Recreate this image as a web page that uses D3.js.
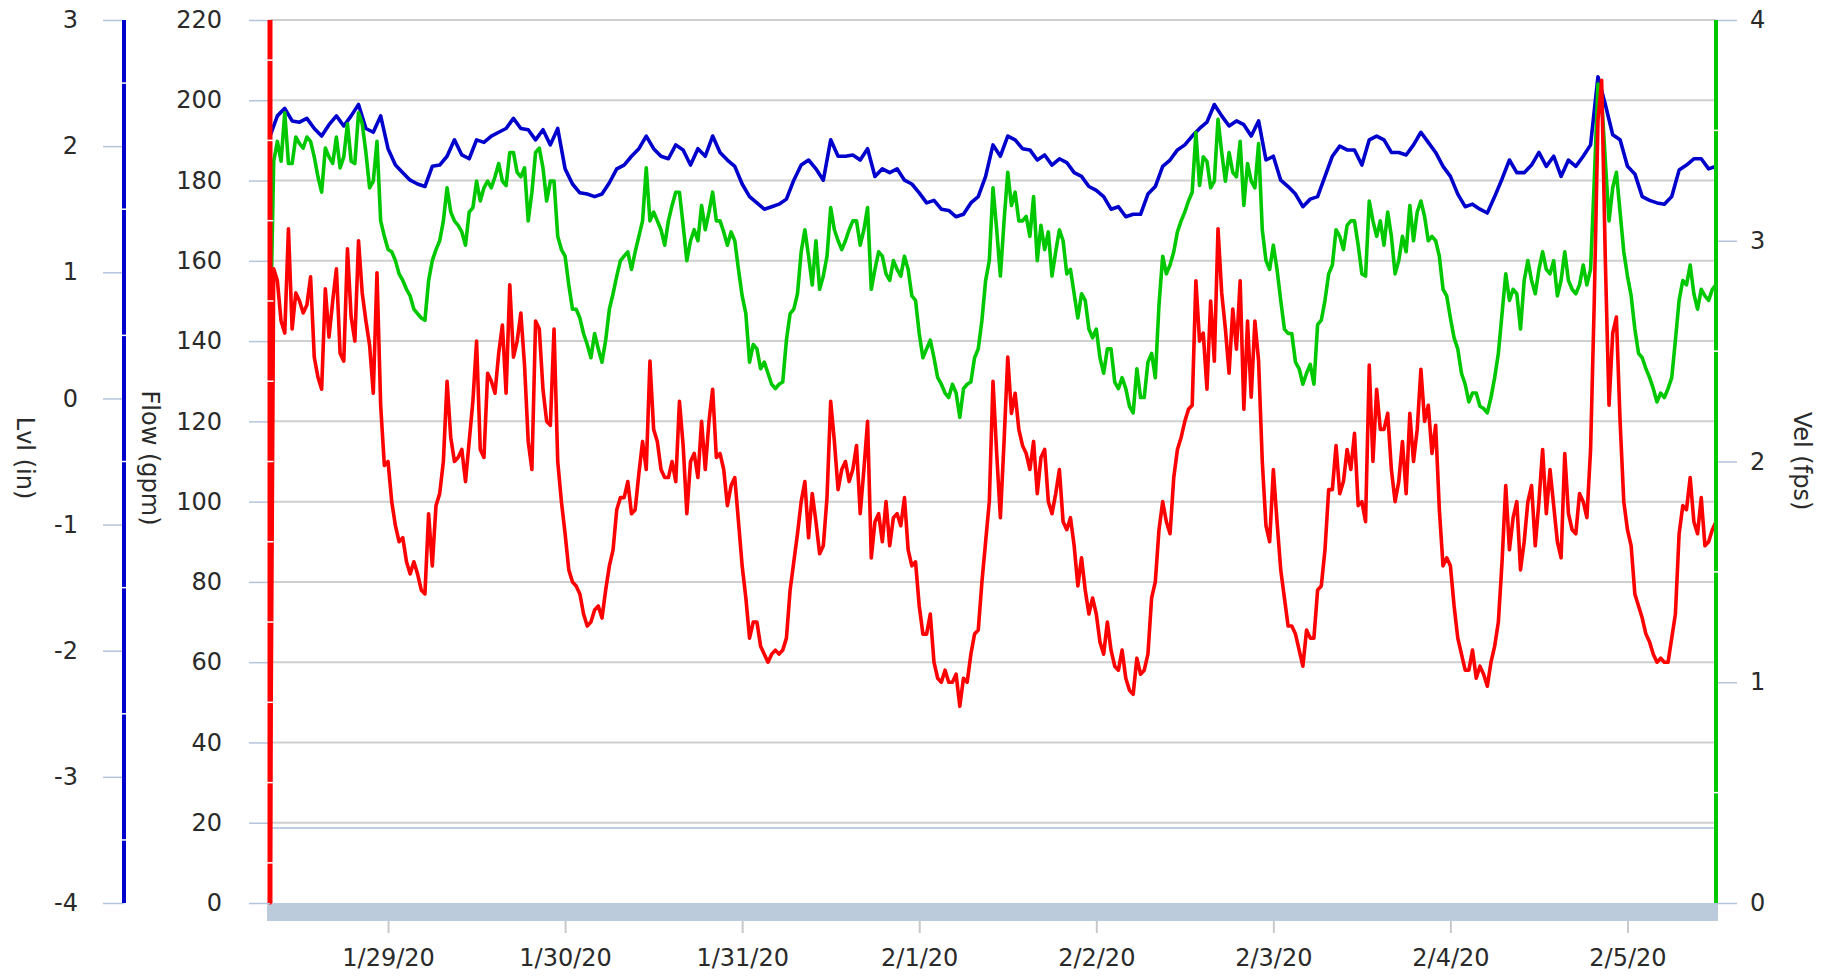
<!DOCTYPE html>
<html><head><meta charset="utf-8">
<script src="https://cdn.jsdelivr.net/npm/d3@7"></script>
<style>
html,body{margin:0;padding:0;background:#fff;overflow:hidden;}
svg text{font-family:"DejaVu Sans",Verdana,sans-serif;fill:#2a2a2a;}
</style></head><body>
<svg id="chart" width="1839" height="977"></svg>
<script>
// ---------------- data ----------------
const startTime = "2020-01-28 08:00";
const endTime = "2020-02-05 12:00";
const lvlStepMinutes = 60;     // Lvl samples: hourly
const flowStepMinutes = 30;    // Flow samples: half-hourly
const velStepMinutes = 30;     // Vel samples: half-hourly
const lvlValues = [2.08,2.24,2.30,2.20,2.19,2.22,2.14,2.08,2.17,2.24,2.16,
2.24,2.33,2.14,2.11,2.24,1.98,1.85,1.79,1.73,1.70,
1.68,1.84,1.85,1.92,2.05,1.93,1.90,2.05,2.03,2.08,
2.11,2.14,2.22,2.14,2.13,2.05,2.13,2.01,2.14,1.82,
1.70,1.63,1.62,1.60,1.62,1.71,1.82,1.85,1.92,1.98,
2.08,1.98,1.92,1.90,2.01,1.97,1.85,1.98,1.92,2.08,
1.95,1.89,1.84,1.70,1.60,1.55,1.50,1.52,1.54,1.58,
1.73,1.85,1.89,1.82,1.73,2.05,1.92,1.92,1.93,1.89,
1.98,1.76,1.82,1.79,1.82,1.73,1.70,1.63,1.55,1.57,
1.50,1.49,1.44,1.46,1.55,1.60,1.76,2.01,1.92,2.08,
2.05,1.98,1.97,1.89,1.93,1.85,1.90,1.87,1.79,1.76,
1.68,1.65,1.60,1.50,1.52,1.44,1.46,1.46,1.62,1.68,
1.84,1.89,1.97,2.01,2.08,2.14,2.19,2.33,2.24,2.16,
2.20,2.17,2.08,2.20,1.89,1.92,1.73,1.68,1.62,1.52,
1.58,1.60,1.76,1.92,2.00,1.97,1.97,1.85,2.05,2.08,
2.05,1.95,1.95,1.93,2.01,2.11,2.03,1.95,1.84,1.76,
1.62,1.52,1.54,1.50,1.47,1.60,1.74,1.89,1.79,1.79,
1.85,1.95,1.84,1.92,1.76,1.89,1.84,1.92,2.01,2.55,
2.33,2.09,2.05,1.84,1.78,1.60,1.57,1.55,1.54,1.60,
1.81,1.85,1.90,1.90,1.82,1.84];
const velValues = [2.49,3.36,3.45,3.36,3.58,3.35,3.35,3.47,3.44,3.42,3.47,
3.45,3.38,3.29,3.22,3.42,3.38,3.35,3.47,3.33,3.38,
3.53,3.36,3.35,3.58,3.53,3.40,3.24,3.27,3.45,3.09,
3.02,2.96,2.95,2.91,2.85,2.82,2.78,2.75,2.69,2.67,
2.65,2.64,2.82,2.91,2.96,3.00,3.09,3.24,3.13,3.09,
3.07,3.04,2.98,3.13,3.15,3.27,3.18,3.24,3.27,3.24,
3.29,3.35,3.27,3.25,3.40,3.40,3.31,3.29,3.33,3.09,
3.22,3.40,3.42,3.33,3.18,3.27,3.27,3.02,2.96,2.93,
2.80,2.69,2.69,2.65,2.58,2.53,2.47,2.58,2.51,2.45,
2.55,2.69,2.76,2.84,2.91,2.93,2.95,2.87,2.95,3.02,
3.09,3.33,3.09,3.13,3.09,3.05,2.98,3.09,3.16,3.22,
3.22,3.07,2.91,3.00,3.05,3.00,3.16,3.05,3.13,3.22,
3.09,3.09,3.04,2.98,3.04,3.00,2.87,2.75,2.67,2.45,
2.53,2.51,2.42,2.45,2.40,2.35,2.33,2.35,2.36,2.55,
2.67,2.69,2.76,2.95,3.05,2.93,2.80,3.00,2.78,2.84,
2.93,3.15,3.05,3.00,2.96,3.00,3.05,3.09,3.09,2.98,
3.05,3.15,2.78,2.87,2.95,2.93,2.85,2.82,2.91,2.87,
2.84,2.93,2.87,2.75,2.73,2.58,2.47,2.51,2.55,2.47,
2.38,2.35,2.31,2.29,2.35,2.31,2.20,2.33,2.35,2.36,
2.47,2.51,2.64,2.82,2.91,3.24,3.05,2.84,3.09,3.31,
3.16,3.22,3.09,3.09,3.11,3.02,3.20,2.91,3.07,2.96,
3.04,2.84,2.95,3.05,3.00,2.85,2.87,2.76,2.65,2.76,
2.73,2.60,2.56,2.60,2.47,2.40,2.51,2.51,2.36,2.33,
2.38,2.33,2.25,2.22,2.42,2.29,2.29,2.45,2.49,2.38,
2.71,2.93,2.85,2.89,2.95,3.04,3.09,3.13,3.18,3.22,
3.49,3.25,3.38,3.36,3.24,3.27,3.55,3.40,3.27,3.40,
3.31,3.29,3.45,3.16,3.35,3.27,3.24,3.44,3.05,2.91,
2.87,2.98,2.87,2.73,2.60,2.58,2.58,2.45,2.42,2.35,
2.40,2.44,2.35,2.62,2.64,2.73,2.85,2.89,3.05,3.02,
2.96,3.07,3.09,3.09,2.98,2.85,2.84,3.18,3.09,3.02,
3.09,2.98,3.13,3.02,2.85,2.91,3.02,2.95,3.16,3.00,
3.13,3.18,3.11,3.00,3.02,3.00,2.93,2.78,2.75,2.65,
2.56,2.51,2.40,2.35,2.27,2.31,2.31,2.25,2.24,2.22,
2.29,2.38,2.49,2.67,2.85,2.73,2.78,2.76,2.60,2.82,
2.91,2.82,2.76,2.87,2.95,2.87,2.85,2.91,2.75,2.82,
2.95,2.82,2.78,2.76,2.80,2.89,2.80,2.87,3.27,3.71,
3.64,3.36,3.09,3.24,3.31,3.13,2.95,2.84,2.75,2.60,
2.49,2.47,2.42,2.38,2.33,2.27,2.31,2.29,2.33,2.38,
2.55,2.73,2.82,2.80,2.89,2.76,2.69,2.78,2.75,2.73,
2.78,2.80];
const flowValues = [0,158,155,145,142,168,143,152,150,147,149,
156,136,131,128,153,141,150,158,137,135,
163,146,140,165,152,145,139,127,157,124,
109,110,100,94,90,91,85,82,85,82,
78,77,97,84,99,102,110,130,116,110,
111,113,105,115,125,140,113,111,132,130,
127,137,144,127,154,136,140,147,134,115,
108,145,143,128,120,119,143,110,100,92,
83,80,79,77,72,69,70,73,74,71,
78,84,88,98,101,101,105,97,98,107,
115,108,135,118,115,108,106,106,110,105,
125,114,97,110,112,106,120,108,120,128,
111,112,108,99,104,106,95,84,76,66,
70,70,64,62,60,62,63,62,63,66,
78,85,92,100,105,91,102,95,87,89,
101,125,115,103,108,110,105,108,114,97,
108,120,86,95,97,90,100,89,96,97,
94,101,88,84,85,74,67,67,72,60,
56,55,58,55,55,57,49,56,55,62,
67,68,80,90,100,130,112,96,115,136,
122,127,118,114,112,108,115,102,111,113,
100,97,102,108,95,93,96,89,79,86,
78,72,76,72,65,62,70,63,59,58,
63,56,53,52,61,57,58,62,76,80,
93,100,95,92,106,113,116,120,123,124,
155,140,142,128,150,135,168,152,143,132,
148,138,155,123,145,126,145,135,110,94,
90,108,95,83,76,69,69,67,63,59,
68,66,66,78,79,88,103,103,114,102,
105,113,108,117,99,100,95,134,110,128,
118,118,122,108,100,105,115,102,122,110,
118,133,120,124,112,119,98,84,86,84,
74,66,62,58,58,63,56,59,57,54,
60,64,70,85,104,88,96,100,83,90,
100,104,89,100,113,97,108,99,90,86,
112,97,93,92,102,100,96,113,150,195,
205,160,124,142,146,120,100,93,89,77,
74,71,67,65,62,60,61,60,60,66,
72,92,99,98,106,95,92,101,89,90,
93,95];
const flowRefLine = 18.7;
const lvlTicks = [-4,-3,-2,-1,0,1,2,3];
const lvlMinor = [-3.5,-2.5,-1.5,-0.5,0.5,1.5,2.5];
const flowTicks = [0,20,40,60,80,100,120,140,160,180,200,220];
const flowMinor = [10,30,50,70,90,110,130,150,170,190,210];
const velTicks = [0,1,2,3,4];
const velMinor = [0.5,1.5,2.5,3.5];
const dateTickDays = ["2020-01-29","2020-01-30","2020-01-31","2020-02-01","2020-02-02","2020-02-03","2020-02-04","2020-02-05"];
const dateTickLabels = ["1/29/20","1/30/20","1/31/20","2/1/20","2/2/20","2/3/20","2/4/20","2/5/20"];
const titles = {lvl:"Lvl (in)", flow:"Flow (gpm)", vel:"Vel (fps)"};

// ---------------- layout ----------------
const X0 = 270, X1 = 1716, Y0 = 903, Y1 = 20;
const LVL_X = 124, FLOW_X = 270, VEL_X = 1716;
const FS = 24;
const parseT = d3.timeParse("%Y-%m-%d %H:%M");
const parseD = d3.timeParse("%Y-%m-%d");
const t0 = parseT(startTime), t1 = parseT(endTime);
const timesFor = (vals, step) => vals.map((_, i) => d3.timeMinute.offset(t0, i * step));

const x = d3.scaleTime().domain([t0, t1]).range([X0, X1]);
const yFlow = d3.scaleLinear().domain([0, 220]).range([Y0, Y1]);
const yLvl = d3.scaleLinear().domain([-4, 3]).range([Y0, Y1]);
const yVel = d3.scaleLinear().domain([0, 4]).range([Y0, Y1]);

const svg = d3.select("#chart");
svg.append("rect").attr("width", 1839).attr("height", 977).attr("fill", "#fff");

// gridlines
svg.append("g").selectAll("line").data(flowTicks.filter(d => d > 0)).join("line")
  .attr("x1", X0).attr("x2", X1).attr("y1", d => yFlow(d)).attr("y2", d => yFlow(d))
  .attr("stroke", "#cfcfcf").attr("stroke-width", 2);
// reference line
svg.append("line").attr("x1", X0).attr("x2", X1)
  .attr("y1", yFlow(flowRefLine)).attr("y2", yFlow(flowRefLine))
  .attr("stroke", "#a9bdd6").attr("stroke-width", 1.5);

// bottom band
svg.append("rect").attr("x", X0 - 3).attr("y", Y0).attr("width", X1 - X0 + 5).attr("height", 18)
  .attr("fill", "#bccbdb");

// x axis
const xAxis = d3.axisBottom(x)
  .tickValues(dateTickDays.map(parseD))
  .tickFormat((d, i) => dateTickLabels[i])
  .tickSize(12).tickPadding(16);
const gx = svg.append("g").attr("transform", `translate(0,${Y0 + 18})`).call(xAxis);
gx.select(".domain").remove();
gx.selectAll(".tick line").attr("stroke", "#c8c8c8").attr("stroke-width", 2);
gx.selectAll(".tick text").attr("font-size", FS).attr("fill", "#2a2a2a");

// data lines
function drawLine(vals, step, yS, color) {
  const ts = timesFor(vals, step);
  const line = d3.line().x((d, i) => x(ts[i])).y(d => yS(d));
  svg.append("path").datum(vals).attr("d", line)
    .attr("fill", "none").attr("stroke", color).attr("stroke-width", 3.6)
    .attr("stroke-linejoin", "round").attr("stroke-linecap", "round");
}
drawLine(lvlValues, lvlStepMinutes, yLvl, "#0000cc");
drawLine(velValues, velStepMinutes, yVel, "#00c800");
drawLine(flowValues, flowStepMinutes, yFlow, "#ff0000");

// y axes
function yAxis(scale, ticks, minor, ax, side, color, lw, pad) {
  const a = (side === "left" ? d3.axisLeft(scale) : d3.axisRight(scale))
    .tickValues(ticks).tickSize(21).tickPadding(pad).tickFormat(d => `${d}`);
  const g = svg.append("g").attr("transform", `translate(${ax},0)`).call(a);
  g.select(".domain").remove();
  g.selectAll(".tick line").attr("stroke", "#b3c5dc").attr("stroke-width", 1.5);
  g.selectAll(".tick text").attr("font-size", FS).attr("fill", "#2a2a2a");
  svg.append("line").attr("x1", ax).attr("x2", ax).attr("y1", Y1).attr("y2", Y0)
    .attr("stroke", color).attr("stroke-width", lw);
  svg.append("g").selectAll("line").data(minor).join("line")
    .attr("x1", ax - lw / 2 - 1).attr("x2", ax + lw / 2 + 1)
    .attr("y1", d => scale(d)).attr("y2", d => scale(d))
    .attr("stroke", "#fff").attr("stroke-width", 1.5);
}
yAxis(yLvl, lvlTicks, lvlMinor, LVL_X, "left", "#0000cc", 4, 25);
yAxis(yFlow, flowTicks, flowMinor, FLOW_X, "left", "#ff0000", 5, 27);
yAxis(yVel, velTicks, velMinor, VEL_X, "right", "#00c800", 4, 13);

// axis titles
function title(txt, cx, cy) {
  svg.append("text").attr("transform", `translate(${cx},${cy}) rotate(90)`)
    .attr("text-anchor", "middle").attr("dominant-baseline", "central")
    .attr("font-size", FS).attr("fill", "#2a2a2a").text(txt);
}
title(titles.lvl, 25, 458);
title(titles.flow, 150, 458);
title(titles.vel, 1802, 461);
</script>
</body></html>
